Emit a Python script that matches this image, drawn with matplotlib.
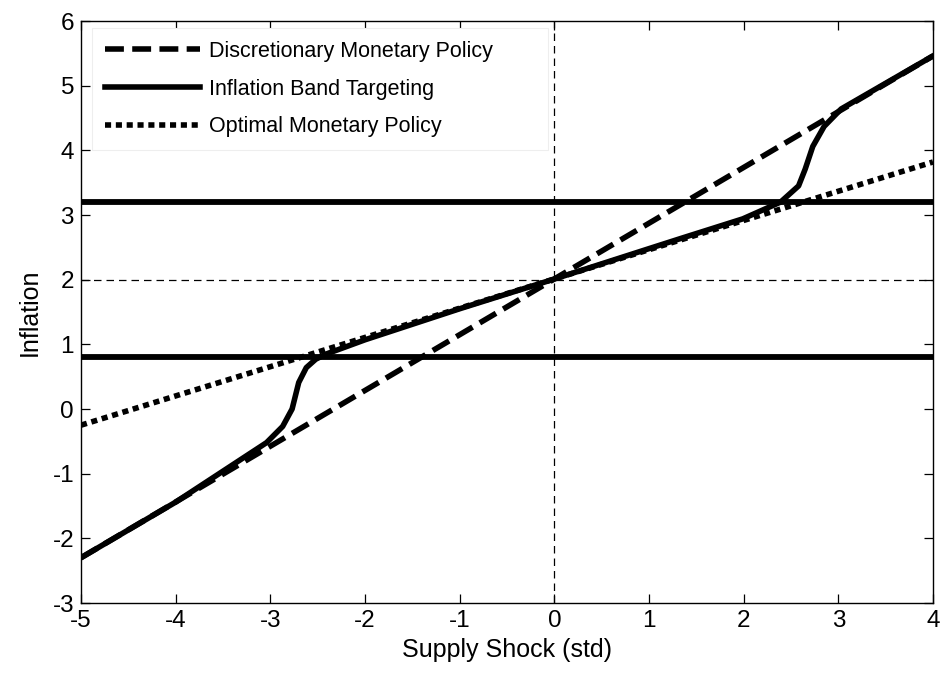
import matplotlib
matplotlib.use("Agg")
from matplotlib import pyplot as plt

plt.rcParams['font.family'] = ['Liberation Sans', 'DejaVu Sans']
plt.rcParams['axes.unicode_minus'] = False

disc_x = [-5.0, 4.0]
disc_y = [-2.30, 5.46]

opt_x = [-5.0, 4.0]
opt_y = [-0.25, 3.82]

band_x = [-5.0, -4.0, -3.04, -2.87, -2.77, -2.70, -2.62, -2.52, -2.41,
          -2.0, -1.0, 0.0, 1.0, 1.32, 1.99, 2.39, 2.58, 2.65, 2.73,
          2.85, 3.03, 4.0]
band_y = [-2.30, -1.44, -0.52, -0.27, 0.00, 0.41, 0.64, 0.77, 0.85,
          1.07, 1.55, 2.01, 2.48, 2.63, 2.94, 3.20, 3.45, 3.71, 4.06,
          4.37, 4.64, 5.46]

band_lo = 0.8
band_hi = 3.2
target = 2.0

fig = plt.figure(figsize=(9.42, 6.77), dpi=100)
ax = fig.add_axes([81 / 942, 1 - 603 / 677, 852 / 942, 582 / 677])

# thin reference lines
ax.axvline(0, color='black', lw=0.9, ls=(0, (6, 4)))
ax.axhline(target, color='black', lw=0.9, ls=(0, (6, 4)))

# band limits
ax.axhline(band_hi, color='black', lw=4.2, solid_capstyle='butt')
ax.axhline(band_lo, color='black', lw=4.2, solid_capstyle='butt')

ax.plot(disc_x, disc_y, color='black', lw=4, ls=(0, (3.4, 1.5)),
        dash_capstyle='butt', label='Discretionary Monetary Policy')
ax.plot(band_x, band_y, color='black', lw=4, solid_joinstyle='round',
        label='Inflation Band Targeting')
ax.plot(opt_x, opt_y, color='black', lw=4, ls=(0, (1.1, 0.85)),
        dash_capstyle='butt', label='Optimal Monetary Policy')

ax.set_xlim(-5, 4)
ax.set_ylim(-3, 6)
ax.set_xticks(range(-5, 5))
ax.set_yticks(range(-3, 7))
ax.tick_params(direction='in', top=True, right=True, length=6.5,
               width=0.9, labelsize=17.5, pad=5)
for s in ax.spines.values():
    s.set_linewidth(1.0)

ax.set_xlabel('Supply Shock (std)', fontsize=18)
ax.set_ylabel('Inflation', fontsize=18, labelpad=8)

leg = ax.legend(loc='upper left', bbox_to_anchor=(0.013, 0.988, 0.535, 0.0),
                mode='expand', borderaxespad=0, fontsize=15.5,
                handlelength=4.4, handletextpad=0.45, labelspacing=0.78,
                borderpad=0.6, fancybox=False, framealpha=1)
leg.get_frame().set_edgecolor('#eeeeee')
leg.get_frame().set_linewidth(0.8)

fig.savefig('out.png', dpi=100)
